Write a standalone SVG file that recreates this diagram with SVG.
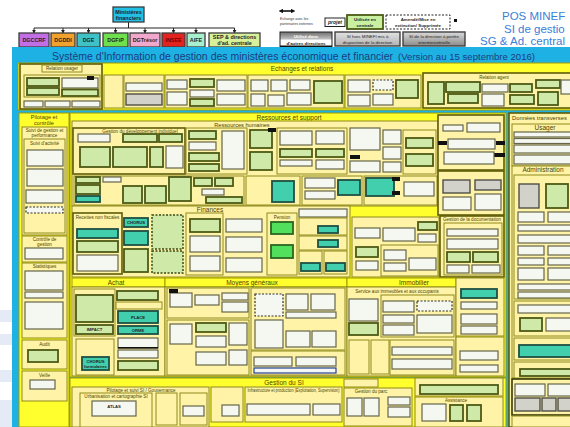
<svg xmlns="http://www.w3.org/2000/svg" width="570" height="427" viewBox="0 0 570 427">
<defs>
<style>
text{font-family:"Liberation Sans",Arial,sans-serif}
.ob{stroke:#3c3c3c;stroke-width:1.3}
.ot{font-size:5.4px;fill:#1e1e1e;text-anchor:middle;font-weight:bold}
.by{fill:#ffff2e;stroke:#a09a00;stroke-width:1}
.py{fill:#fff3a8;stroke:#8e8a1a;stroke-width:1}
.pd{fill:#fff3a8;stroke:#5e5c08;stroke-width:1.6}
.w{fill:#f5f8f1;stroke:#66664a;stroke-width:1.2}
.g{fill:#cfeaa8;stroke:#4c5a14;stroke-width:1.8}
.gb{fill:#52df5c;stroke:#2a6620;stroke-width:1.8}
.t{fill:#42cfae;stroke:#1f4f42;stroke-width:1.8}
.gr{fill:#d2d2ca;stroke:#4e4e46;stroke-width:1.4}
.dg{fill:#cfeaa8;stroke:#3a4a10;stroke-width:1.5;stroke-dasharray:2 1.5}
.dw{fill:#f5f8f1;stroke:#303030;stroke-width:1.2;stroke-dasharray:2 1.5}
.k{fill:#111}
.h{font-size:6.5px;fill:#4a4600;text-anchor:middle}
.h2{font-size:5.6px;fill:#4a4600;text-anchor:middle}
.hs{font-size:4.6px;fill:#4a4600;text-anchor:middle}
.bt{font-size:4.2px;fill:#1e1e1e;text-anchor:middle;font-weight:bold}
.lg{font-size:4.4px;fill:#1e1e1e;text-anchor:middle}
.con{fill:none;stroke:#222;stroke-width:1}
.bl{font-size:11.5px;fill:#3a80d8}
</style>
<marker id="ar" viewBox="0 0 6 6" refX="5" refY="3" markerWidth="4" markerHeight="4" orient="auto"><path d="M0,0 L6,3 L0,6 z" fill="#222"/></marker>
<marker id="arb" viewBox="0 0 6 6" refX="3" refY="3" markerWidth="3" markerHeight="3" orient="auto-start-reverse"><path d="M0,0 L6,3 L0,6 z" fill="#111"/></marker>
<linearGradient id="gw" x1="0" y1="0" x2="0" y2="1"><stop offset="0" stop-color="#6e6e6e"/><stop offset="0.45" stop-color="#bcbcbc"/><stop offset="0.55" stop-color="#ffffff"/><stop offset="1" stop-color="#ffffff"/></linearGradient>
<linearGradient id="gg" x1="0" y1="0" x2="0" y2="1"><stop offset="0" stop-color="#e2e2e2"/><stop offset="1" stop-color="#b2b2b2"/></linearGradient>
<linearGradient id="gd" x1="0" y1="0" x2="0" y2="1"><stop offset="0" stop-color="#dadada"/><stop offset="1" stop-color="#8a8a8a"/></linearGradient>
</defs>
<rect x="0" y="0" width="570" height="427" fill="#ffffff"/>
<rect x="0" y="310" width="12" height="12" fill="#e4ebf6"/>
<rect x="0" y="334" width="12" height="11" fill="#e4ebf6"/>
<rect x="0" y="370" width="12" height="12" fill="#e4ebf6"/>
<rect x="0" y="400" width="12" height="27" fill="#e4ebf6"/>

<g id="connectors">
<path class="con" d="M128.5 22 V28 M34 28 H234.5"/>
<path class="con" marker-end="url(#ar)" d="M34 28 V33"/>
<path class="con" marker-end="url(#ar)" d="M63 28 V33"/>
<path class="con" marker-end="url(#ar)" d="M88.5 28 V33"/>
<path class="con" marker-end="url(#ar)" d="M115.5 28 V33"/>
<path class="con" marker-end="url(#ar)" d="M145 28 V33"/>
<path class="con" marker-end="url(#ar)" d="M173.5 28 V33"/>
<path class="con" marker-end="url(#ar)" d="M196 28 V33"/>
<path class="con" marker-end="url(#ar)" d="M234.5 28 V33"/>
</g>

<g id="n-minef"><rect class="ob" x="113" y="7" width="31" height="15" fill="#22c0e4"/><text class="ot" x="128.5" y="13.5">Ministères</text><text class="ot" x="128.5" y="19.5">financiers</text></g>
<g id="n-dgccrf"><rect class="ob" x="19" y="33" width="30" height="14" fill="#c26ee6"/><text class="ot" x="34" y="42">DGCCRF</text></g>
<g id="n-dgddi"><rect class="ob" x="51" y="33" width="24" height="14" fill="#f0a22c"/><text class="ot" x="63" y="42">DGDDI</text></g>
<g id="n-dge"><rect class="ob" x="77" y="33" width="23" height="14" fill="#3ec2c6"/><text class="ot" x="88.5" y="42">DGE</text></g>
<g id="n-dgfip"><rect class="ob" x="103" y="33" width="25" height="14" fill="#6ee04e"/><text class="ot" x="115.5" y="42">DGFiP</text></g>
<g id="n-dgtresor"><rect class="ob" x="130" y="33" width="30" height="14" fill="#f2a8cc"/><text class="ot" x="145" y="42">DGTrésor</text></g>
<g id="n-insee"><rect class="ob" x="162" y="33" width="23" height="14" fill="#e2231f"/><text class="ot" x="173.5" y="42" style="fill:#7a0000">INSEE</text></g>
<g id="n-aife"><rect class="ob" x="187" y="33" width="18" height="14" fill="#a6f0d0"/><text class="ot" x="196" y="42">AIFE</text></g>
<g id="n-sep"><rect class="ob" x="209" y="33" width="51" height="14" fill="#d8f09a"/><text class="ot" x="234.5" y="39">SEP &amp; directions</text><text class="ot" x="234.5" y="45">d'ad. centrale</text></g>

<g id="legend">
<path d="M281 11 H293" stroke="#111" stroke-width="1.6" marker-start="url(#arb)" marker-end="url(#arb)"/>
<text x="280" y="20" font-size="3.6" fill="#333">Echange avec les</text>
<text x="280" y="24.5" font-size="3.6" fill="#333">partenaires externes</text>
<rect x="325" y="18" width="20" height="8.5" fill="#fff" stroke="#222" stroke-width="1"/>
<text x="335" y="24" font-size="5" font-style="italic" font-weight="bold" text-anchor="middle" fill="#222">projet</text>
<rect class="g" x="347" y="15" width="36" height="14" style="fill:#c8f0a0"/>
<text class="lg" x="365" y="21" font-weight="bold">Utilisée en</text>
<text class="lg" x="365" y="27" font-weight="bold">centrale</text>
<rect x="386" y="15" width="64" height="14" fill="#fff" stroke="#222" stroke-width="1" stroke-dasharray="2 1.5"/>
<text class="lg" x="418" y="21" font-weight="bold">Amendé/Mise en</text>
<text class="lg" x="418" y="27" font-weight="bold">extinction/ Supprimée</text>
<rect x="454" y="19" width="3" height="3" fill="#111"/>
<rect x="280" y="32" width="52" height="15" fill="url(#gw)" stroke="#222" stroke-width="1"/>
<rect x="280" y="45.5" width="52" height="1.8" fill="#111"/>
<text class="lg" x="306" y="38" font-weight="bold" style="fill:#fff">Utilisé dans</text>
<text class="lg" x="306" y="44.5" font-weight="bold">d'autres directions</text>
<rect x="335" y="32" width="65" height="14" fill="url(#gg)" stroke="#404040" stroke-width="1.4"/>
<text class="lg" x="367.5" y="38" font-size="3.8">SI hors MINEFI mis à</text>
<text class="lg" x="367.5" y="43.5" font-size="3.8">disposition de la direction</text>
<rect x="403" y="32" width="62" height="14" fill="url(#gd)" stroke="#404040" stroke-width="1.4"/>
<text class="lg" x="434" y="38" font-size="3.8">SI de la direction à portée</text>
<text class="lg" x="434" y="43.5" font-size="3.8">interministérielle</text>
</g>

<g id="heading">
<text class="bl" x="502" y="20">POS MINEF</text>
<text class="bl" x="504" y="32.5">SI de gestio</text>
<text class="bl" x="480" y="45">SG &amp; Ad. central</text>
</g>

<rect x="12" y="47" width="560" height="382" fill="#1eb2e4"/>
<g id="title">
<text x="52" y="60" font-size="10.5" fill="#1c3c7c" textLength="341" lengthAdjust="spacingAndGlyphs">Système d'Information de gestion des ministères économique et financier</text>
<text x="398" y="60" font-size="8.5" fill="#1c3c7c" textLength="137" lengthAdjust="spacingAndGlyphs">(Version au 15 septembre 2016)</text>
</g>

<g id="echanges">
<rect class="by" x="18" y="63" width="554" height="47"/>
<text class="h" x="302" y="71">Echanges et relations</text>
<g id="relation-usager">
<rect class="pd" x="20" y="64" width="82" height="45"/>
<rect class="py" x="42" y="65" width="40" height="7"/>
<text class="hs" x="62" y="70">Relation usager</text>
<rect class="py" x="24" y="75" width="76" height="22"/>
<rect class="g" x="27" y="78" width="32" height="8"/>
<rect class="g" x="27" y="88" width="32" height="7"/>
<rect class="w" x="62" y="78" width="36" height="10"/>
<rect class="k" x="87" y="76" width="7" height="4"/>
<rect class="g" x="62" y="89.5" width="36" height="6.5"/>
<rect class="w" x="24" y="101" width="19" height="6"/>
<rect class="w" x="45" y="101" width="25" height="6"/>
<rect class="w" x="72" y="101" width="28" height="6"/>
</g>
<g id="echanges-panels">
<rect class="py" x="104" y="75" width="19" height="33"/>
<rect class="py" x="124" y="75" width="40" height="33"/>
<rect class="w" x="126" y="83" width="36" height="8"/>
<rect class="gr" x="126" y="94" width="36" height="11"/>
<rect class="py" x="165" y="75" width="82" height="33"/>
<rect class="w" x="167" y="80" width="20" height="9"/>
<rect class="w" x="167" y="92" width="20" height="13"/>
<rect class="g" x="190" y="79" width="24" height="8"/>
<rect class="w" x="190" y="90" width="24" height="7"/>
<rect class="g" x="190" y="99" width="24" height="7"/>
<rect class="w" x="217" y="80" width="28" height="11"/>
<rect class="w" x="217" y="94" width="28" height="11"/>
<rect class="py" x="248" y="75" width="96" height="33"/>
<rect class="w" x="251" y="80" width="17" height="11"/>
<rect class="w" x="251" y="94" width="14" height="12"/>
<rect class="w" x="271" y="80" width="16" height="11"/>
<rect class="w" x="268" y="95" width="16" height="11"/>
<rect class="w" x="290" y="80" width="20" height="10"/>
<rect class="w" x="287" y="93" width="24" height="12"/>
<rect class="g" x="314" y="81" width="28" height="22"/>
<rect class="py" x="345" y="75" width="76" height="33"/>
<rect class="w" x="348" y="80" width="22" height="12"/>
<rect class="w" x="348" y="95" width="22" height="11"/>
<rect class="dw" x="373" y="80" width="20" height="10"/>
<rect class="w" x="373" y="94" width="20" height="11"/>
<rect class="g" x="396" y="80" width="22" height="18"/>
</g>
<g id="relation-agent">
<rect class="pd" x="423" y="73" width="148" height="35"/>
<text class="hs" x="494" y="78.5">Relation agent</text>
<rect class="g" x="428" y="82" width="16" height="22"/>
<rect class="g" x="446" y="82" width="34" height="10"/>
<rect class="g" x="448" y="94" width="30" height="9"/>
<rect class="w" x="482" y="84" width="26" height="8"/>
<rect class="w" x="482" y="94" width="22" height="12"/>
<rect class="g" x="510" y="84" width="22" height="8"/>
<rect class="g" x="510" y="95" width="24" height="9"/>
<rect class="g" x="536" y="80" width="24" height="8"/>
<rect class="g" x="538" y="92" width="20" height="13"/>
<rect class="w" x="561" y="80" width="11" height="14"/>
</g>
</g>

<g id="pilotage">
<rect class="by" x="19" y="113" width="50" height="314"/>
<text class="h2" x="44" y="119">Pilotage et</text>
<text class="h2" x="44" y="125">contrôle</text>
<rect class="py" x="22" y="127" width="45" height="108"/>
<text class="hs" x="44.5" y="132">Suivi de gestion et</text>
<text class="hs" x="44.5" y="137">performance</text>
<rect class="py" x="24" y="139" width="41" height="94"/>
<text class="hs" x="44.5" y="144.5">Suivi d'activité</text>
<rect class="w" x="27" y="150" width="36" height="16"/>
<rect class="w" x="27" y="169" width="36" height="17"/>
<rect class="w" x="26" y="190" width="37" height="13"/>
<rect class="dw" x="26" y="207" width="37" height="6"/>
<rect class="py" x="22" y="236" width="45" height="26"/>
<text class="hs" x="44.5" y="241">Contrôle de</text>
<text class="hs" x="44.5" y="246">gestion</text>
<rect class="w" x="25" y="248" width="38" height="11"/>
<rect class="py" x="22" y="263" width="45" height="75"/>
<text class="hs" x="44.5" y="268">Statistiques</text>
<rect class="w" x="25" y="271" width="38" height="19"/>
<rect class="w" x="25" y="292" width="38" height="6"/>
<rect class="w" x="25" y="302" width="38" height="27"/>
<rect class="py" x="22" y="340" width="45" height="29"/>
<text class="hs" x="44.5" y="345.5">Audit</text>
<rect class="g" x="28" y="350" width="30" height="12"/>
<rect class="py" x="22" y="371" width="45" height="30"/>
<text class="hs" x="44.5" y="376.5">Veille</text>
<rect class="w" x="30" y="380" width="25" height="9"/>
</g>

<g id="ressources">
<rect class="by" x="70" y="113" width="436" height="264"/>
<text class="h" x="289" y="119.5">Ressources et support</text>
<g id="rh">
<rect class="py" x="72" y="121" width="366" height="85"/>
<text class="h2" x="242" y="126.5">Ressources humaines</text>
<rect class="pd" x="73" y="128" width="112" height="46"/>
<text class="hs" x="140" y="132.5">Gestion du développement individuel</text>
<rect class="w" x="78" y="134" width="32" height="8"/>
<rect class="g" x="123" y="134" width="34" height="8"/>
<rect class="g" x="159" y="134" width="23" height="8"/>
<rect class="g" x="80" y="147" width="30" height="20"/>
<rect class="g" x="113" y="147" width="34" height="20"/>
<rect class="g" x="150" y="147" width="13" height="20"/>
<rect class="w" x="166" y="146" width="17" height="22"/>
<rect class="py" x="186" y="128" width="61" height="46"/>
<rect class="g" x="189" y="131" width="27" height="8"/>
<rect class="w" x="189" y="142" width="27" height="8"/>
<rect class="g" x="189" y="153" width="30" height="8"/>
<rect class="g" x="189" y="164" width="30" height="7"/>
<rect class="w" x="222" y="131" width="22" height="38"/>
<rect class="g" x="250" y="130" width="22" height="18"/>
<rect class="k" x="268" y="128" width="8" height="4"/>
<rect class="g" x="250" y="152" width="22" height="18"/>
<rect class="py" x="277" y="128" width="70" height="46"/>
<rect class="w" x="280" y="131" width="32" height="14"/>
<rect class="w" x="316" y="131" width="28" height="13"/>
<rect class="g" x="280" y="149" width="32" height="8"/>
<rect class="g" x="316" y="149" width="28" height="8"/>
<rect class="w" x="280" y="160" width="32" height="6"/>
<rect class="w" x="316" y="160" width="28" height="9"/>
<rect class="w" x="350" y="128" width="30" height="22"/>
<rect class="k" x="350" y="155" width="10" height="4"/>
<rect class="w" x="350" y="161" width="30" height="11"/>
<rect class="w" x="383" y="130" width="18" height="14"/>
<rect class="w" x="383" y="147" width="18" height="12"/>
<rect class="w" x="383" y="162" width="18" height="10"/>
<rect class="py" x="403" y="130" width="33" height="44"/>
<rect class="g" x="406" y="138" width="27" height="10"/>
<rect class="g" x="406" y="154" width="27" height="12"/>
<rect class="py" x="74" y="176" width="170" height="29"/>
<rect class="g" x="76" y="177" width="24" height="6"/>
<rect class="g" x="76" y="185" width="24" height="9"/>
<rect class="t" x="76" y="196" width="24" height="6"/>
<rect class="w" x="103" y="177" width="18" height="5"/>
<rect class="g" x="123" y="186" width="19" height="17"/>
<rect class="g" x="145" y="186" width="21" height="17"/>
<rect class="g" x="169" y="177" width="22" height="24"/>
<rect class="g" x="194" y="178" width="18" height="8"/>
<rect class="g" x="215" y="178" width="18" height="8"/>
<rect class="w" x="202" y="189" width="22" height="6"/>
<rect class="g" x="206" y="197" width="36" height="6"/>
<rect class="py" x="246" y="176" width="54" height="29"/>
<rect class="t" x="272" y="181" width="22" height="21"/>
<rect class="py" x="302" y="176" width="60" height="29"/>
<rect class="w" x="305" y="178" width="30" height="10"/>
<rect class="w" x="305" y="191" width="30" height="8"/>
<rect class="t" x="338" y="180" width="22" height="15"/>
<rect class="py" x="364" y="176" width="73" height="29"/>
<rect class="t" x="366" y="178" width="28" height="18"/>
<rect class="k" x="392" y="177" width="8" height="4"/>
<rect class="k" x="392" y="191" width="8" height="4"/>
<rect class="w" x="404" y="182" width="30" height="14"/>
</g>
<g id="rh-right">
<rect class="pd" x="438" y="115" width="66" height="55"/>
<rect class="w" x="443" y="125" width="20" height="6"/>
<rect class="w" x="467" y="123" width="33" height="9"/>
<rect class="k" x="438" y="141" width="9" height="4"/>
<rect class="k" x="496" y="141" width="9" height="4"/>
<rect class="w" x="448" y="139" width="47" height="10"/>
<rect class="k" x="494" y="153" width="11" height="4"/>
<rect class="w" x="444" y="152" width="50" height="12"/>
<rect class="pd" x="438" y="171" width="66" height="44"/>
<rect class="gr" x="443" y="180" width="27" height="13"/>
<rect class="gr" x="475" y="180" width="26" height="10"/>
<rect class="w" x="443" y="197" width="28" height="13"/>
<rect class="w" x="475" y="194" width="26" height="16"/>
</g>
<g id="finances">
<rect class="py" x="72" y="206" width="278" height="71"/>
<text class="h" x="210" y="212">Finances</text>
<rect class="pd" x="73" y="213" width="49" height="61"/>
<text class="hs" x="97.5" y="218.5">Recettes non fiscales</text>
<rect class="t" x="77" y="229" width="41" height="9"/>
<rect class="g" x="77" y="241" width="41" height="11"/>
<rect class="w" x="77" y="255" width="41" height="16"/>
<rect class="t" x="124" y="218" width="24" height="9"/>
<text class="bt" x="136" y="224">CHORUS</text>
<rect class="t" x="124" y="231" width="24" height="14"/>
<rect class="g" x="124" y="249" width="24" height="23"/>
<rect class="dg" x="152" y="215" width="31" height="34"/>
<rect class="dg" x="152" y="251" width="31" height="22"/>
<rect class="py" x="186" y="213" width="37" height="62"/>
<rect class="g" x="190" y="219" width="30" height="13"/>
<rect class="w" x="190" y="236" width="30" height="16"/>
<rect class="w" x="190" y="256" width="30" height="15"/>
<rect class="w" x="226" y="219" width="36" height="13"/>
<rect class="w" x="226" y="237" width="36" height="15"/>
<rect class="w" x="226" y="258" width="36" height="14"/>
<rect class="py" x="267" y="213" width="30" height="62"/>
<text class="hs" x="282" y="218.5">Pension</text>
<rect class="gb" x="271" y="222" width="22" height="12"/>
<rect class="gb" x="271" y="245" width="22" height="13"/>
<rect class="w" x="299" y="209" width="48" height="8"/>
<rect class="py" x="299" y="218" width="48" height="17"/>
<rect class="t" x="318" y="226" width="20" height="7"/>
<rect class="py" x="299" y="236" width="48" height="14"/>
<rect class="t" x="318" y="240" width="20" height="7"/>
<rect class="py" x="299" y="251" width="23" height="23"/>
<rect class="t" x="301" y="263" width="19" height="8"/>
<rect class="py" x="324" y="251" width="23" height="23"/>
<rect class="t" x="326" y="263" width="19" height="8"/>
</g>
<g id="office">
<rect class="py" x="352" y="217" width="87" height="60"/>
<rect class="w" x="355" y="228" width="25" height="10"/>
<rect class="w" x="383" y="228" width="32" height="13"/>
<rect class="g" x="418" y="222" width="19" height="8"/>
<rect class="w" x="418" y="234" width="18" height="8"/>
<rect class="g" x="356" y="247" width="22" height="10"/>
<rect class="w" x="356" y="261" width="22" height="9"/>
<rect class="py" x="381" y="245" width="57" height="31"/>
<rect class="w" x="384" y="250" width="22" height="10"/>
<rect class="w" x="384" y="263" width="22" height="8"/>
<rect class="w" x="409" y="258" width="27" height="12"/>
</g>
<g id="documentation">
<rect class="pd" x="440" y="216" width="64" height="61"/>
<text class="hs" x="472" y="221" textLength="58" lengthAdjust="spacingAndGlyphs">Gestion de la documentation</text>
<rect class="py" x="444" y="223" width="58" height="52"/>
<rect class="w" x="447" y="229" width="51" height="7"/>
<rect class="w" x="447" y="239" width="51" height="10"/>
<rect class="g" x="447" y="252" width="23" height="10"/>
<rect class="g" x="473" y="252" width="25" height="10"/>
<rect class="w" x="447" y="265" width="22" height="8"/>
<rect class="w" x="472" y="265" width="28" height="8"/>
</g>
<g id="achat">
<rect class="by" x="72" y="278" width="93" height="9"/>
<text class="h" x="116" y="285">Achat</text>
<rect class="py" x="72" y="287" width="93" height="89"/>
<rect class="py" x="74" y="289" width="41" height="47"/>
<rect class="g" x="76" y="295" width="37" height="27"/>
<rect class="g" x="76" y="325" width="37" height="9"/>
<text class="bt" x="94.5" y="331">IMPACT</text>
<rect class="py" x="76" y="339" width="38" height="36"/>
<rect class="t" x="82" y="357" width="27" height="13"/>
<text class="bt" x="95.5" y="362.5">CHORUS</text>
<text class="bt" x="95.5" y="367.5" font-size="3.6">formulaires</text>
<rect class="g" x="117" y="291" width="41" height="9"/>
<rect class="py" x="116" y="302" width="46" height="7"/>
<rect class="t" x="118" y="311" width="40" height="12"/>
<text class="bt" x="138" y="318.5">PLACE</text>
<rect class="t" x="118" y="326" width="40" height="8"/>
<text class="bt" x="138" y="331.5">ORME</text>
<rect class="w" x="118" y="338" width="40" height="10"/>
<rect class="k" x="118" y="347" width="40" height="1.5"/>
<rect class="w" x="118" y="350" width="40" height="8"/>
<rect class="g" x="118" y="361" width="40" height="9"/>
</g>
<g id="moyens">
<rect class="by" x="165" y="278" width="182" height="9"/>
<text class="h" x="252" y="285">Moyens généraux</text>
<rect class="py" x="165" y="287" width="182" height="89"/>
<rect class="py" x="167" y="288" width="82" height="30"/>
<rect class="w" x="170" y="293" width="22" height="14"/>
<rect class="k" x="169" y="289" width="9" height="4"/>
<rect class="w" x="195" y="295" width="24" height="10"/>
<rect class="w" x="222" y="293" width="26" height="7"/>
<rect class="w" x="222" y="302" width="26" height="10"/>
<rect class="py" x="167" y="320" width="82" height="55"/>
<rect class="w" x="170" y="324" width="22" height="20"/>
<rect class="g" x="196" y="323" width="30" height="9"/>
<rect class="w" x="196" y="336" width="30" height="11"/>
<rect class="w" x="229" y="323" width="18" height="22"/>
<rect class="w" x="196" y="352" width="30" height="13"/>
<rect class="w" x="229" y="350" width="18" height="15"/>
<rect class="py" x="251" y="288" width="94" height="62"/>
<rect class="dw" x="255" y="294" width="28" height="22"/>
<rect class="w" x="286" y="294" width="22" height="16"/>
<rect class="w" x="311" y="294" width="24" height="16"/>
<rect class="w" x="286" y="312" width="50" height="6"/>
<rect class="w" x="255" y="320" width="28" height="28"/>
<rect class="w" x="286" y="331" width="24" height="16"/>
<rect class="w" x="312" y="331" width="24" height="16"/>
<rect class="py" x="251" y="351" width="94" height="24"/>
<rect class="w" x="254" y="357" width="38" height="9"/>
<rect class="w" x="296" y="357" width="40" height="9"/>
<rect class="w" x="254" y="368" width="82" height="5" style="stroke:#2040a0"/>
</g>
<g id="immobilier">
<rect class="by" x="347" y="278" width="109" height="9"/>
<text class="h" x="414" y="285">Immobilier</text>
<rect class="py" x="347" y="287" width="109" height="89"/>
<text class="hs" x="397" y="292.5">Service aux immeubles et aux occupants</text>
<rect class="w" x="349" y="299" width="29" height="22"/>
<rect class="g" x="349" y="323" width="29" height="12"/>
<rect class="py" x="381" y="295" width="73" height="42"/>
<rect class="w" x="383" y="301" width="31" height="11"/>
<rect class="dw" x="417" y="301" width="35" height="10"/>
<rect class="w" x="383" y="315" width="31" height="8"/>
<rect class="w" x="417" y="315" width="35" height="18"/>
<rect class="w" x="383" y="325" width="31" height="10"/>
<rect class="py" x="349" y="340" width="20" height="34"/>
<rect class="py" x="371" y="340" width="18" height="34"/>
<rect class="py" x="390" y="340" width="64" height="35"/>
<rect class="w" x="392" y="347" width="60" height="8"/>
<rect class="w" x="392" y="359" width="60" height="10"/>
<rect class="py" x="456" y="278" width="48" height="58"/>
<rect class="t" x="461" y="289" width="36" height="9"/>
<rect class="w" x="461" y="302" width="36" height="7"/>
<rect class="w" x="461" y="314" width="36" height="10"/>
<rect class="w" x="461" y="326" width="36" height="8"/>
<rect class="py" x="456" y="337" width="48" height="39"/>
<rect class="w" x="460" y="351" width="38" height="9"/>
<rect class="w" x="460" y="365" width="38" height="7"/>
</g>
</g>

<g id="donnees">
<rect class="pd" x="509" y="113" width="63" height="314"/>
<text class="h" x="512" y="120" style="text-anchor:start;font-size:5.8px">Données transverses</text>
<rect class="py" x="512" y="124" width="60" height="42"/>
<text class="h" x="545" y="130">Usager</text>
<rect class="w" x="514" y="132" width="58" height="5"/>
<rect class="w" x="514" y="138.5" width="58" height="5"/>
<rect class="w" x="514" y="145" width="58" height="8"/>
<rect class="w" x="514" y="155" width="58" height="9"/>
<rect class="py" x="512" y="166" width="60" height="212"/>
<text class="h" x="543" y="172">Administration</text>
<rect class="py" x="514" y="175" width="58" height="124"/>
<rect class="gr" x="519" y="184" width="20" height="24"/>
<rect class="g" x="546" y="184" width="22" height="24"/>
<rect class="w" x="518" y="212" width="26" height="10"/>
<rect class="w" x="548" y="212" width="24" height="10"/>
<rect class="w" x="518" y="225" width="54" height="6"/>
<rect class="w" x="518" y="235" width="54" height="8"/>
<rect class="w" x="518" y="246" width="26" height="9"/>
<rect class="w" x="548" y="246" width="24" height="9"/>
<rect class="w" x="518" y="258" width="26" height="7"/>
<rect class="w" x="548" y="258" width="24" height="7"/>
<rect class="w" x="518" y="268" width="26" height="12"/>
<rect class="w" x="548" y="268" width="24" height="12"/>
<rect class="w" x="518" y="284" width="54" height="6"/>
<rect class="w" x="518" y="292" width="54" height="6"/>
<rect class="py" x="514" y="301" width="58" height="35"/>
<rect class="w" x="518" y="305" width="54" height="8"/>
<rect class="g" x="520" y="318" width="22" height="13"/>
<rect class="w" x="546" y="318" width="26" height="13"/>
<rect class="py" x="514" y="338" width="58" height="22"/>
<rect class="t" x="519" y="345" width="53" height="12"/>
<rect class="py" x="514" y="362" width="58" height="16"/>
<rect class="g" x="520" y="369" width="52" height="7"/>
<rect class="pd" x="512" y="379" width="60" height="36" style="stroke:#3a3a08"/>
<rect class="w" x="515" y="384" width="30" height="12"/>
<rect class="w" x="548" y="384" width="24" height="12"/>
<rect class="gr" x="515" y="398" width="25" height="13"/>
<rect class="gr" x="542" y="398" width="14" height="13"/>
<rect class="gr" x="558" y="398" width="14" height="13"/>
<rect class="py" x="512" y="416" width="60" height="11"/>
</g>

<g id="gestion-si">
<rect class="by" x="70" y="378" width="436" height="49"/>
<text class="h" x="284" y="384.5">Gestion du SI</text>
<rect class="py" x="72" y="387" width="137" height="40"/>
<text class="hs" x="141" y="391.5">Pilotage et suivi SI / Gouvernance</text>
<rect class="py" x="80" y="393" width="72" height="34"/>
<text class="hs" x="116" y="398">Urbanisation et cartographie SI</text>
<rect class="w" x="92" y="401" width="44" height="15"/>
<text class="bt" x="114" y="407.5">ATLAS</text>
<rect class="py" x="156" y="393" width="21" height="32"/>
<rect class="py" x="180" y="393" width="27" height="32"/>
<rect class="w" x="183" y="406" width="21" height="10"/>
<rect class="py" x="211" y="387" width="32" height="35"/>
<rect class="w" x="222" y="405" width="17" height="11"/>
<rect class="py" x="245" y="387" width="97" height="35"/>
<text class="hs" x="293.5" y="391.5" font-size="3.8" textLength="92" lengthAdjust="spacingAndGlyphs">Infrastructure et production (Exploitation, Supervision)</text>
<rect class="w" x="247" y="404" width="63" height="11"/>
<rect class="w" x="313" y="404" width="27" height="11"/>
<rect class="py" x="344" y="379" width="34" height="8"/>
<rect class="py" x="344" y="388" width="68" height="38"/>
<text class="hs" x="371" y="393">Gestion du parc</text>
<rect class="w" x="347" y="398" width="15" height="18"/>
<rect class="w" x="364" y="398" width="15" height="18"/>
<rect class="w" x="388" y="397" width="22" height="8"/>
<rect class="w" x="388" y="407" width="22" height="10"/>
<rect class="py" x="415" y="378" width="88" height="18"/>
<rect class="g" x="420" y="385" width="78" height="9"/>
<rect class="py" x="415" y="397" width="88" height="30"/>
<text class="hs" x="456" y="401.5">Assistance</text>
<rect class="w" x="422" y="404" width="24" height="17"/>
<rect class="g" x="450" y="405" width="13" height="16"/>
<rect class="g" x="467" y="405" width="14" height="16"/>
</g>
</svg>
